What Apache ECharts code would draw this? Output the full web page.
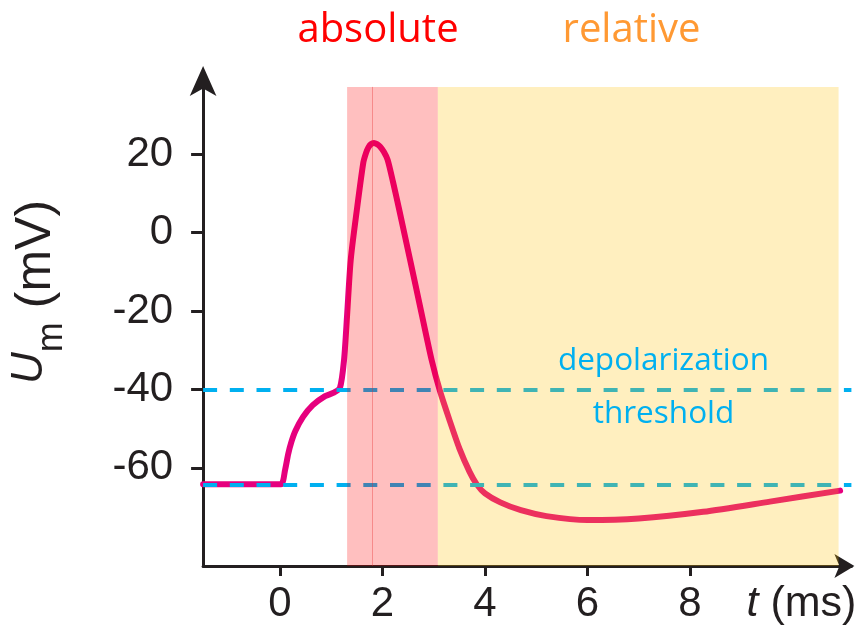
<!DOCTYPE html>
<html><head><meta charset="utf-8">
<script src="https://cdn.jsdelivr.net/npm/echarts@6/dist/echarts.min.js"></script>
<style>html,body{margin:0;padding:0;background:#fff}#c{width:857px;height:630px}</style>
</head><body><div id="c"></div>
<script>
// ---- data ----
const timeMs = [-1.5, -0.3, 0.02, 0.1, 0.16, 0.22, 0.3, 0.45, 0.64, 0.88, 1.05, 1.17, 1.25, 1.31, 1.38, 1.5, 1.625, 1.678, 1.723, 1.776, 1.834, 1.893, 1.951, 2.029, 2.101, 2.205, 2.328, 2.54, 2.75, 2.96, 3.12, 3.3, 3.5, 3.7, 3.84, 4.0, 4.3, 4.7, 5.2, 6.0, 7.0, 8.26, 9.56, 10.93];
const membraneMV = [-64.2, -64.2, -64.2, -60.5, -56.5, -53.5, -50.6, -47, -44, -41.7, -40.8, -39.6, -32.5, -21, -7.0, 5.8, 17.8, 20.3, 21.7, 22.6, 22.9, 22.6, 22.0, 20.6, 18.6, 13.0, 5.8, -7.0, -19.8, -32.5, -40.3, -47.5, -55, -61, -64.2, -66.5, -68.8, -70.8, -72.3, -73.3, -72.9, -71.2, -68.6, -65.8];
const xTickValues = [0, 2, 4, 6, 8];
const yTickValues = [-60, -40, -20, 0, 20];
const thresholdLevels = [-40, -64.2];
const absoluteBand = [1.31, 3.08];
const relativeBand = [3.08, 10.9];
const bandTop = 37.2;
const peakMarkerTime = 1.8;
const xRange = [-1.5, 11.15];
const yRange = [-85, 41];

const curve = timeMs.map((t, i) => [t, membraneMV[i]]);
const axisColor = '#231F20';
const tickFont = 'Liberation Sans, Arial, sans-serif';

const chart = echarts.init(document.getElementById('c'));
chart.setOption({
  animation: false,
  backgroundColor: '#fff',
  grid: { left: 203.1, right: 5.6, top: 72, bottom: 64.1, containLabel: false, outerBoundsMode: 'none' },
  xAxis: {
    type: 'value', min: xRange[0], max: xRange[1],
    splitLine: { show: false },
    axisLine: { onZero: false, lineStyle: { color: axisColor, width: 3 }, symbol: ['none', 'arrow'], symbolSize: [18, 20], symbolOffset: [0, 3] },
    axisTick: { show: true, inside: false, length: 10, lineStyle: { color: axisColor, width: 3 }, customValues: xTickValues },
    axisLabel: { customValues: xTickValues, margin: 18, color: axisColor, fontSize: 42, fontFamily: tickFont },
    name: '{t|t}{n| (ms)}', nameLocation: 'end', nameGap: 5,
    nameTextStyle: { align: 'right', verticalAlign: 'top', padding: [17, 0, 0, 0],
      rich: { t: { fontStyle: 'italic', fontSize: 43, fontFamily: tickFont, color: axisColor },
              n: { fontSize: 43, fontFamily: tickFont, color: axisColor } } }
  },
  yAxis: {
    type: 'value', min: yRange[0], max: yRange[1],
    splitLine: { show: false },
    axisLine: { onZero: false, lineStyle: { color: axisColor, width: 3 }, symbol: ['none', 'arrow'], symbolSize: [20, 30], symbolOffset: [0, 6] },
    axisTick: { show: true, inside: false, length: 12, lineStyle: { color: axisColor, width: 3 }, customValues: yTickValues },
    axisLabel: { customValues: yTickValues, margin: 30, padding: [4, 0, 0, 0], color: axisColor, fontSize: 42, fontFamily: tickFont },
    name: '{u|U}{m|m}{n| (mV)}', nameLocation: 'middle', nameGap: 133, nameRotate: 90,
    nameTextStyle: { padding: [0, 0, 0, 54],
      rich: { u: { fontStyle: 'italic', fontSize: 44, verticalAlign: 'top', fontFamily: tickFont, color: axisColor },
              m: { fontSize: 36, verticalAlign: 'top', padding: [26, 0, 0, 0], fontFamily: tickFont, color: axisColor },
              n: { fontSize: 50, verticalAlign: 'top', padding: [3, 0, 0, 0], fontFamily: tickFont, color: axisColor } } }
  },
  series: [
    {
      name: 'Um', type: 'line', data: curve, showSymbol: false, smooth: 0.25,
      lineStyle: { color: '#E6007E', width: 6, cap: 'round', join: 'round' }, z: 2, silent: true
    },
    {
      name: 'threshold', type: 'line', data: [], z: 3, silent: true,
      markLine: { symbol: 'none', silent: true, z: 5, label: { show: false },
        lineStyle: { color: '#00B0F0', width: 4, type: [14, 12.7] },
        emphasis: { disabled: true },
        data: thresholdLevels.map(v => ({ yAxis: v })) }
    },
    {
      name: 'bands', type: 'line', data: [], z: 10, silent: true,
      markArea: { silent: true, z: 10, emphasis: { disabled: true },
        data: [
          [{ xAxis: absoluteBand[0], yAxis: bandTop, itemStyle: { color: 'rgba(255,0,0,0.25)', opacity: 1 } }, { xAxis: absoluteBand[1], yAxis: yRange[0] }],
          [{ xAxis: relativeBand[0], yAxis: bandTop, itemStyle: { color: 'rgba(255,192,0,0.25)', opacity: 1 } }, { xAxis: relativeBand[1], yAxis: yRange[0] }]
        ] },
      markLine: { symbol: 'none', silent: true, z: 11, label: { show: false }, emphasis: { disabled: true },
        lineStyle: { color: 'rgba(230,40,40,0.35)', width: 1, type: 'solid' },
        data: [[{ coord: [peakMarkerTime, bandTop] }, { coord: [peakMarkerTime, yRange[0]] }]] }
    }
  ],
  graphic: [
    { type: 'text', z: 100, x: 378, y: 31, style: { text: 'absolute', fill: '#FF0000', font: '40px "Open Sans"', align: 'center', verticalAlign: 'middle', textAlign: 'center', textVerticalAlign: 'middle' } },
    { type: 'text', z: 100, x: 631.5, y: 31, style: { text: 'relative', fill: '#FF9933', font: '40px "Open Sans"', align: 'center', verticalAlign: 'middle', textAlign: 'center', textVerticalAlign: 'middle' } },
    { type: 'text', z: 100, x: 663.5, y: 361, style: { text: 'depolarization', fill: '#00B0F0', font: '31.5px "Open Sans"', align: 'center', verticalAlign: 'middle', textAlign: 'center', textVerticalAlign: 'middle' } },
    { type: 'text', z: 100, x: 663.5, y: 414, style: { text: 'threshold', fill: '#00B0F0', font: '31.5px "Open Sans"', align: 'center', verticalAlign: 'middle', textAlign: 'center', textVerticalAlign: 'middle' } }
  ]
});
</script></body></html>
